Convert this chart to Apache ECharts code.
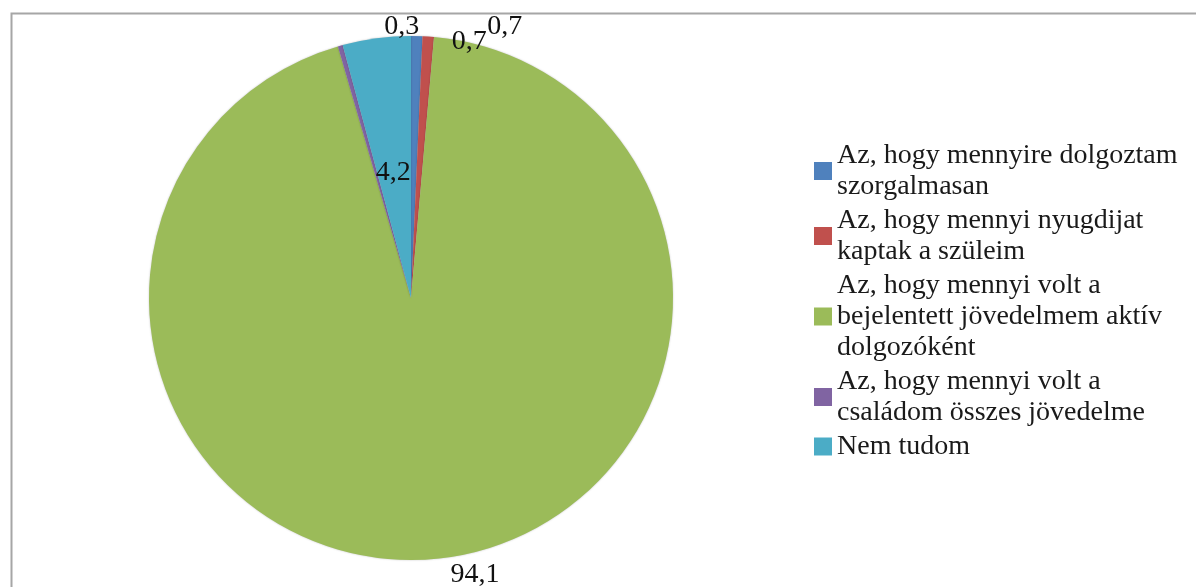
<!DOCTYPE html>
<html>
<head>
<meta charset="utf-8">
<script src="https://cdn.jsdelivr.net/npm/echarts@6/dist/echarts.min.js"></script>
<style>
html,body{margin:0;padding:0;background:#fff;}
#chart{width:1196px;height:587px;}
</style>
</head>
<body>
<div id="chart"></div>
<script>
var categories = [
  "Az, hogy mennyire dolgoztam\nszorgalmasan",
  "Az, hogy mennyi nyugdijat\nkaptak a szüleim",
  "Az, hogy mennyi volt a\nbejelentett jövedelmem aktív\ndolgozóként",
  "Az, hogy mennyi volt a\ncsaládom összes jövedelme",
  "Nem tudom"
];
var values = [0.7, 0.7, 94.1, 0.3, 4.2];
var colors = ["#4F81BD", "#C0504D", "#9BBB59", "#8064A2", "#4BACC6"];

// label nudges (style only) per slice index
var labelShift = [[30, 6], [54, -10], [9, 16], [84, -19], [0, 7]];

var FONT = "'Liberation Serif', 'Times New Roman', serif";
var chart = echarts.init(document.getElementById('chart'));
var data = categories.map(function (c, i) {
  var item = { name: c, value: values[i], itemStyle: { color: colors[i] } };
  if (i === 4) item.label = { position: 'inside' };
  return item;
});
chart.setOption({
  animation: false,
  backgroundColor: '#fff',
  graphic: [{
    type: 'rect', left: 9, top: 11, silent: true,
    shape: { width: 1300, height: 700 },
    style: { fill: 'none', stroke: '#a6a6a6', lineWidth: 2 }
  }],
  legend: {
    orient: 'vertical',
    left: 814, top: 140, padding: 0,
    itemWidth: 18, itemHeight: 18, itemGap: 3,
    icon: 'rect',
    data: categories,
    textStyle: { fontFamily: FONT, fontSize: 28, lineHeight: 31, color: '#1a1a1a' }
  },
  series: [{
    type: 'pie',
    center: [411, 298],
    radius: 262,
    startAngle: 90,
    clockwise: true,
    avoidLabelOverlap: false,
    data: data,
    itemStyle: { shadowBlur: 2, shadowColor: 'rgba(0,0,0,0.25)' },
    label: {
      show: true,
      position: 'outside',
      fontFamily: FONT, fontSize: 28, color: '#111',
      formatter: function (p) { return String(p.value).replace('.', ','); }
    },
    labelLine: { show: false, length: 0, length2: 0 },
    labelLayout: function (p) {
      var s = labelShift[p.dataIndex];
      return { dx: s[0], dy: s[1] };
    },
    emphasis: { disabled: true }
  }]
});
</script>
</body>
</html>
